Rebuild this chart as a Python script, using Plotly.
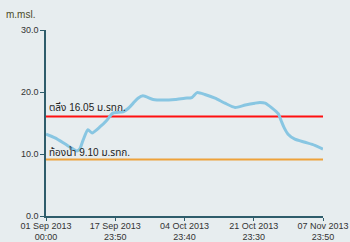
import plotly.graph_objects as go

dates = ["2013-09-01 00:00", "2013-09-03 05:00", "2013-09-05 17:00", "2013-09-07 10:00",
         "2013-09-08 14:00", "2013-09-09 07:00", "2013-09-10 02:00", "2013-09-11 07:00",
         "2013-09-12 07:00", "2013-09-14 07:00", "2013-09-16 00:00", "2013-09-17 10:00",
         "2013-09-19 22:00", "2013-09-21 02:00", "2013-09-22 10:00", "2013-09-23 14:00",
         "2013-09-24 19:00", "2013-09-27 07:00", "2013-09-29 17:00", "2013-10-02 17:00",
         "2013-10-05 02:00", "2013-10-06 19:00", "2013-10-08 02:00", "2013-10-10 00:00",
         "2013-10-12 12:00", "2013-10-14 22:00", "2013-10-17 10:00", "2013-10-19 22:00",
         "2013-10-22 07:00", "2013-10-23 12:00", "2013-10-24 19:00", "2013-10-26 12:00",
         "2013-10-28 00:00", "2013-10-28 17:00", "2013-10-29 10:00", "2013-10-30 10:00",
         "2013-11-01 02:00", "2013-11-03 14:00", "2013-11-06 00:00", "2013-11-07 23:50"]
levels = [13.2, 12.6, 11.6, 10.9, 10.5, 10.8, 12.2, 13.9, 13.4, 14.4,
          15.5, 16.6, 16.8, 17.3, 18.2, 19.0, 19.4, 18.8, 18.7, 18.8,
          19.0, 19.1, 19.9, 19.6, 19.0, 18.2, 17.5, 17.9, 18.2, 18.3,
          18.2, 17.4, 16.5, 15.4, 14.3, 13.2, 12.4, 11.9, 11.4, 10.8]

bank_level = 16.05
bed_level = 9.10
bank_label = "ตลิ่ง 16.05 ม.รทก."
bed_label = "ท้องน้ำ 9.10 ม.รทก."

x_start = "2013-09-01 00:00"
x_end = "2013-11-07 23:50"
tick_vals = ["2013-09-01 00:00", "2013-09-17 23:50", "2013-10-04 23:40",
             "2013-10-21 23:30", "2013-11-07 23:50"]
tick_text = ["01 Sep 2013<br>00:00", "17 Sep 2013<br>23:50", "04 Oct 2013<br>23:40",
             "21 Oct 2013<br>23:30", "07 Nov 2013<br>23:50"]
y_ticks = [0, 10, 20, 30]

axis_color = "#2f5d6b"
bg = "#e7edef"
font_fam = "Liberation Sans, Noto Sans, Noto Sans Thai, sans-serif"

fig = go.Figure()
fig.add_trace(go.Scatter(x=[x_start, x_end], y=[bank_level, bank_level], mode="lines",
                         line=dict(color="#ff1010", width=2), hoverinfo="skip"))
fig.add_trace(go.Scatter(x=[x_start, x_end], y=[bed_level, bed_level], mode="lines",
                         line=dict(color="#eea23a", width=2), hoverinfo="skip"))
fig.add_trace(go.Scatter(x=dates, y=levels, mode="lines",
                         line=dict(color="#88c6e2", width=3, shape="spline", smoothing=0.6)))

fig.add_annotation(x=x_start, y=bank_level, text=bank_label, showarrow=False,
                   xanchor="left", yanchor="bottom", xshift=1, yshift=1,
                   font=dict(size=10, color="#222", family=font_fam))
fig.add_annotation(x=x_start, y=bed_level, text=bed_label, showarrow=False,
                   xanchor="left", yanchor="bottom", xshift=1, yshift=0,
                   font=dict(size=10, color="#222", family=font_fam))
fig.add_annotation(xref="paper", yref="paper", x=-42/277, y=1 + 16/186, text="m.msl.",
                   showarrow=False, xanchor="left", yanchor="middle",
                   font=dict(size=10, color="#4a4a2a", family=font_fam))

fig.update_layout(
    width=350, height=242,
    autosize=False,
    margin=dict(l=46, r=27, t=30, b=26, autoexpand=False),
    paper_bgcolor=bg, plot_bgcolor=bg,
    showlegend=False,
    font=dict(family=font_fam, size=9, color="#333"),
    xaxis=dict(type="date", range=[x_start, x_end], tickvals=tick_vals, ticktext=tick_text,
               showgrid=False, zeroline=False, showline=True, linecolor=axis_color,
               linewidth=1.5, ticks="outside", ticklen=3, tickcolor=axis_color,
               ticklabelstandoff=-3,
               automargin=False, tickfont=dict(size=9, color="#333")),
    yaxis=dict(range=[0, 30], tickvals=y_ticks, tickformat=".1f", showgrid=False,
               zeroline=False, showline=True, linecolor=axis_color, linewidth=1.5,
               ticks="outside", ticklen=4, tickcolor=axis_color,
               automargin=False, tickfont=dict(size=9, color="#333")),
)

fig.write_html("out.html")
